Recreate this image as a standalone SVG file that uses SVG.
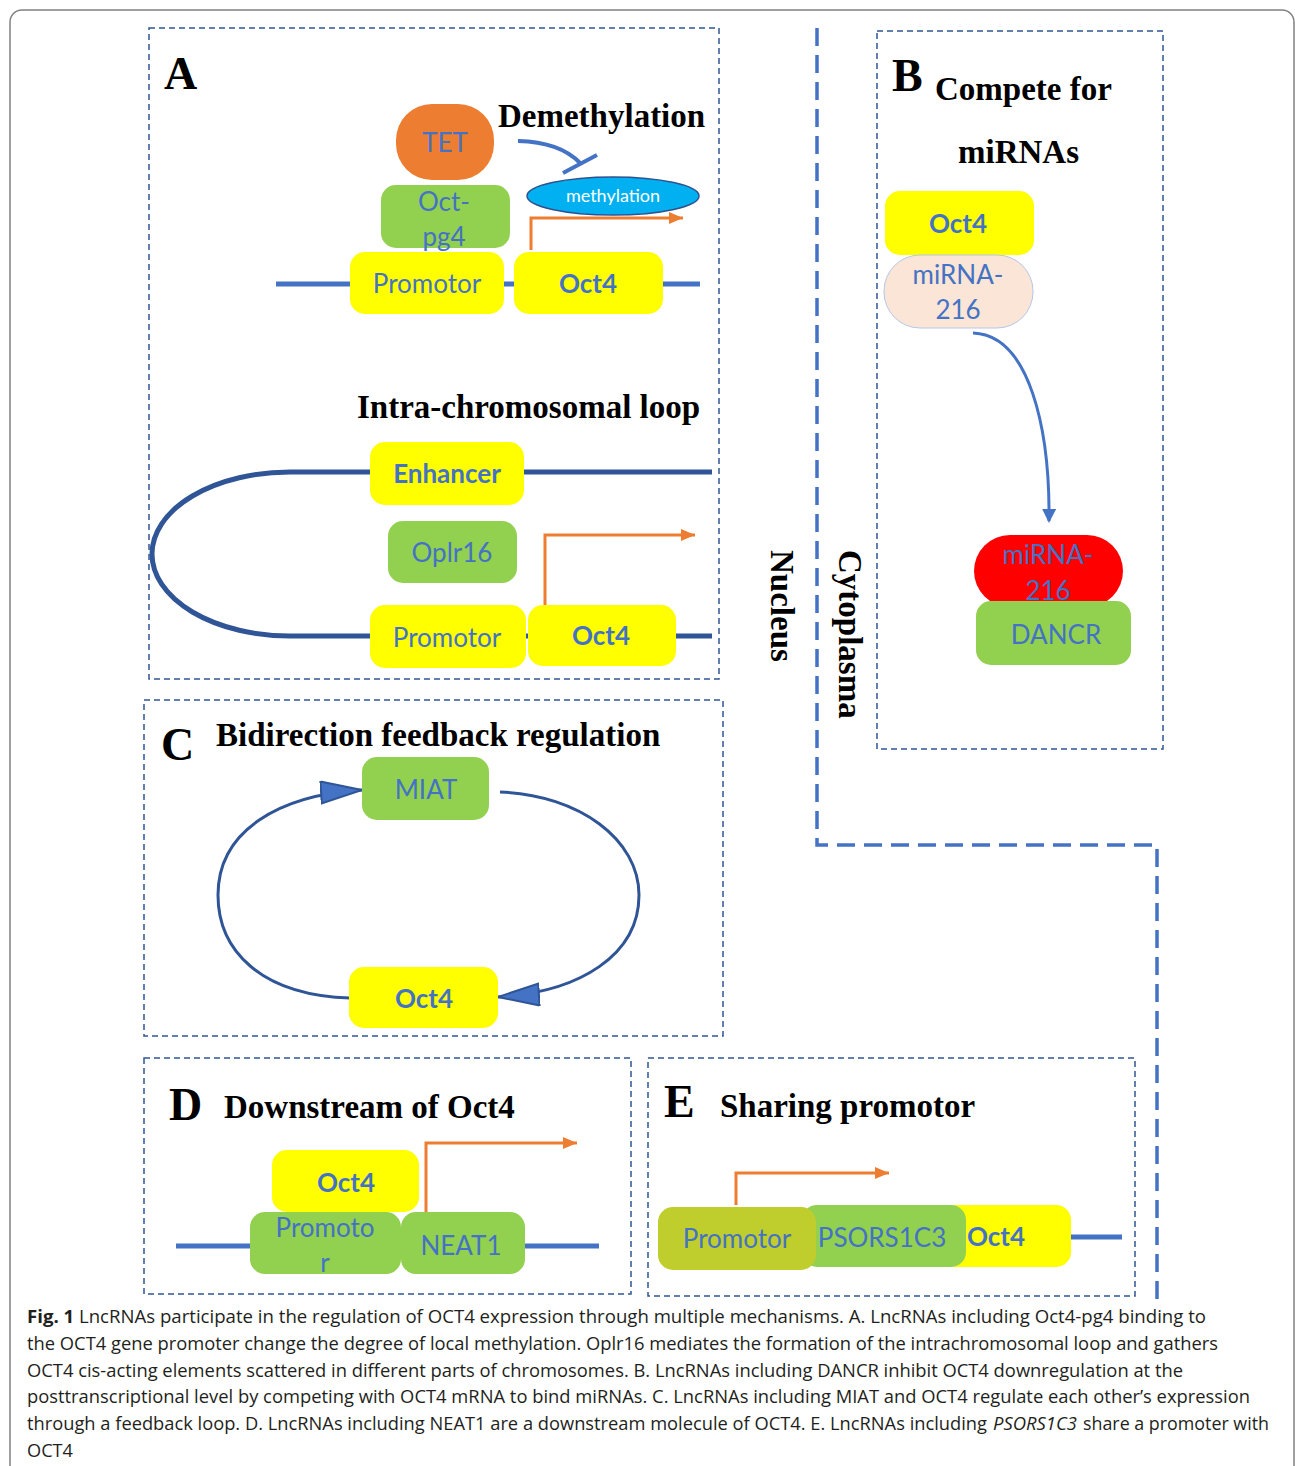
<svg xmlns="http://www.w3.org/2000/svg" width="1295" height="1466" viewBox="0 0 1295 1466">
<style>
.frame{fill:none;stroke:#2F5597;stroke-width:1.5;stroke-dasharray:6 4}
.big{fill:none;stroke:#4472C4;stroke-width:3.5;stroke-dasharray:18 9}
.y{fill:#FFFF00}
.g{fill:#92D050}
.t{font-family:Lato,"Open Sans",sans-serif;font-size:26px;fill:#4472C4;text-anchor:middle}
.b{font-weight:bold}
.ttl{font-family:"Liberation Serif","Times New Roman",serif;font-weight:bold;font-size:33px;fill:#000}
.let{font-family:"Liberation Serif","Times New Roman",serif;font-weight:bold;font-size:46px;fill:#000}
.dna{stroke:#4472C4;stroke-width:5;fill:none}
.dna2{stroke:#2F5597;stroke-width:5;fill:none}
.or{stroke:#ED7D31;stroke-width:3;fill:none;marker-end:url(#oa)}
.cap{font-family:"Open Sans","Noto Sans",sans-serif;font-size:18px;fill:#231F20}
</style>
<defs>
<marker id="oa" markerUnits="userSpaceOnUse" markerWidth="16" markerHeight="14" refX="14" refY="6" orient="auto"><path d="M0,0 L14,6 L0,12 Z" fill="#ED7D31"/></marker>
<marker id="ba" markerUnits="userSpaceOnUse" markerWidth="16" markerHeight="16" refX="12" refY="7" orient="auto"><path d="M0,0 L14,7 L0,14 Z" fill="#4472C4"/></marker>
<marker id="ta" markerUnits="userSpaceOnUse" markerWidth="46" markerHeight="28" refX="42" refY="12" orient="auto"><path d="M1,1 L42,12 L1,23 Z" fill="#4472C4" stroke="#2F5597" stroke-width="2"/></marker>
</defs>
<rect x="10" y="10" width="1284" height="1480" rx="12" fill="#fff" stroke="#808080" stroke-width="1.5"/>

<!-- panel frames -->
<rect class="frame" x="149" y="28" width="570" height="651"/>
<rect class="frame" x="877" y="31" width="286" height="718"/>
<rect class="frame" x="144" y="700" width="579" height="336"/>
<rect class="frame" x="144" y="1058" width="487" height="236"/>
<rect class="frame" x="648" y="1058" width="487" height="238"/>
<path class="big" d="M817,28 L817,845 L1157,845 L1157,1300"/>

<!-- labels -->
<text class="let" x="164" y="89">A</text>
<text class="ttl" x="498" y="127">Demethylation</text>
<text class="ttl" x="357" y="418">Intra-chromosomal loop</text>
<text class="let" x="892" y="91">B</text>
<text class="ttl" x="935" y="100">Compete for</text>
<text class="ttl" x="958" y="163">miRNAs</text>
<text class="ttl" transform="translate(771,550) rotate(90)">Nucleus</text>
<text class="ttl" transform="translate(839,550) rotate(90)">Cytoplasma</text>
<text class="let" x="161" y="760">C</text>
<text class="ttl" x="216" y="746">Bidirection feedback regulation</text>
<text class="let" x="169" y="1120">D</text>
<text class="ttl" x="224" y="1118">Downstream of Oct4</text>
<text class="let" x="664" y="1117">E</text>
<text class="ttl" x="720" y="1117">Sharing promotor</text>

<!-- connectors -->
<g id="connectors">
<path class="dna" d="M276,284 L700,284"/>
<path class="or" d="M531,250 L531,218 L683,218"/>
<path d="M518,141 Q560,142 580,163" stroke="#4472C4" stroke-width="4" fill="none"/>
<path d="M563,173 L597,155" stroke="#4472C4" stroke-width="4"/>
<path class="dna2" d="M712,472 L290,472 A138,82 0 0 0 290,636 L712,636"/>
<path class="or" d="M545,605 L545,535 L695,535"/>
<path d="M973,333 C1030,335 1050,430 1049,521" stroke="#4472C4" stroke-width="3" fill="none" marker-end="url(#ba)"/>
<path d="M350,998 C260,995 218,950 218,895 C218,830 280,795 362,790" stroke="#2F5597" stroke-width="3" fill="none" marker-end="url(#ta)"/>
<path d="M500,792 C580,795 639,840 639,895 C639,955 580,992 498,997" stroke="#2F5597" stroke-width="3" fill="none" marker-end="url(#ta)"/>
<path class="dna" d="M176,1246 L599,1246"/>
<path class="or" d="M426,1212 L426,1143 L577,1143"/>
<path class="or" d="M736,1205 L736,1173 L889,1173"/>
<path class="dna" d="M1065,1237 L1122,1237"/>
</g>

<!-- Panel A nodes -->
<g id="tet"><rect x="396" y="104" width="98" height="76" rx="36" fill="#ED7D31"/><text class="t" x="445" y="152">TET</text></g>
<g id="methylation"><ellipse cx="613" cy="196" rx="86" ry="19" fill="#00B0F0" stroke="#2F528F" stroke-width="1.5"/><text x="613" y="202" font-family="Lato,'Open Sans',sans-serif" font-size="18" fill="#fff" text-anchor="middle">methylation</text></g>
<g id="octpg4"><rect class="g" x="381" y="185" width="129" height="63" rx="15"/><text class="t" x="444" y="211">Oct-</text><text class="t" x="444" y="246">pg4</text></g>
<g id="promA"><rect class="y" x="350" y="252" width="154" height="62" rx="15"/><text class="t" x="427" y="293">Promotor</text></g>
<g id="oct4A"><rect class="y" x="514" y="252" width="149" height="62" rx="15"/><text class="t b" x="588" y="293">Oct4</text></g>
<g id="enhancer"><rect class="y" x="370" y="442" width="154" height="63" rx="15"/><text class="t b" x="447" y="483">Enhancer</text></g>
<g id="oplr16"><rect class="g" x="388" y="521" width="129" height="62" rx="15"/><text class="t" x="452" y="562">Oplr16</text></g>
<g id="promA2"><rect class="y" x="370" y="605" width="156" height="63" rx="15"/><text class="t" x="447" y="647">Promotor</text></g>
<g id="oct4A2"><rect class="y" x="528" y="605" width="148" height="61" rx="15"/><text class="t b" x="601" y="645">Oct4</text></g>

<!-- Panel B nodes -->
<g id="oct4B"><rect class="y" x="885" y="191" width="149" height="64" rx="15"/><text class="t b" x="958" y="233">Oct4</text></g>
<g id="mirnaB1"><rect x="884" y="255" width="149" height="73" rx="36" fill="#FBE5D6" stroke="#B4C7E7" stroke-width="1"/><text class="t" x="958" y="284">miRNA-</text><text class="t" x="958" y="319">216</text></g>
<g id="mirnaB2"><rect x="974" y="535" width="149" height="72" rx="36" fill="#FF0000"/><text class="t" x="1048" y="564">miRNA-</text><text class="t" x="1048" y="600">216</text></g>
<g id="dancr"><rect class="g" x="976" y="601" width="155" height="64" rx="15"/><text class="t" x="1056" y="644">DANCR</text></g>

<!-- Panel C nodes -->
<g id="miat"><rect class="g" x="362" y="757" width="127" height="63" rx="15"/><text class="t" x="426" y="799">MIAT</text></g>
<g id="oct4C"><rect class="y" x="349" y="967" width="149" height="61" rx="15"/><text class="t b" x="424" y="1008">Oct4</text></g>

<!-- Panel D nodes -->
<g id="oct4D"><rect class="y" x="272" y="1150" width="147" height="62" rx="15"/><text class="t b" x="346" y="1192">Oct4</text></g>
<g id="promD"><rect class="g" x="250" y="1212" width="151" height="62" rx="15"/><text class="t" x="325" y="1237">Promoto</text><text class="t" x="325" y="1272">r</text></g>
<g id="neat1"><rect class="g" x="401" y="1212" width="124" height="62" rx="15"/><text class="t" x="461" y="1255">NEAT1</text></g>

<!-- Panel E nodes -->
<g id="oct4E"><rect class="y" x="920" y="1205" width="151" height="62" rx="15"/><text class="t b" x="996" y="1246">Oct4</text></g>
<g id="psors"><rect class="g" x="802" y="1205" width="164" height="62" rx="15"/><text class="t" x="882" y="1247">PSORS1C3</text></g>
<g id="promE"><rect x="658" y="1207" width="158" height="63" rx="15" fill="#BFCE2C"/><text class="t" x="737" y="1248">Promotor</text></g>

<!-- caption -->
<g id="caption">
<text class="cap" x="27" y="1323" textLength="1179" lengthAdjust="spacingAndGlyphs"><tspan font-weight="bold">Fig. 1</tspan>  LncRNAs participate in the regulation of OCT4 expression through multiple mechanisms. A. LncRNAs including Oct4-pg4 binding to</text>
<text class="cap" x="27" y="1350" textLength="1191" lengthAdjust="spacingAndGlyphs">the OCT4 gene promoter change the degree of local methylation. Oplr16 mediates the formation of the intrachromosomal loop and gathers</text>
<text class="cap" x="27" y="1377" textLength="1156" lengthAdjust="spacingAndGlyphs">OCT4 cis-acting elements scattered in different parts of chromosomes. B. LncRNAs including DANCR inhibit OCT4 downregulation at the</text>
<text class="cap" x="27" y="1403" textLength="1223" lengthAdjust="spacingAndGlyphs">posttranscriptional level by competing with OCT4 mRNA to bind miRNAs. C. LncRNAs including MIAT and OCT4 regulate each other’s expression</text>
<text class="cap" x="27" y="1430" textLength="960" lengthAdjust="spacingAndGlyphs">through a feedback loop. D. LncRNAs including NEAT1 are a downstream molecule of OCT4. E. LncRNAs including</text>
<text class="cap" x="993" y="1430" textLength="84" lengthAdjust="spacingAndGlyphs" font-style="italic">PSORS1C3</text>
<text class="cap" x="1083" y="1430" textLength="186" lengthAdjust="spacingAndGlyphs">share a promoter with</text>
<text class="cap" x="27" y="1457" textLength="46" lengthAdjust="spacingAndGlyphs">OCT4</text>
</g>
</svg>
